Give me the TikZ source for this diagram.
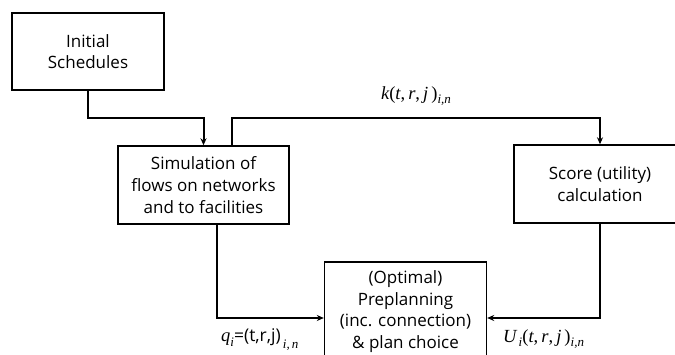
\documentclass[tikz,border=0pt]{standalone}
\usepackage{fontspec}
\setmainfont{Open Sans}
\newfontfamily\mfont{Liberation Serif}
\usetikzlibrary{arrows.meta,calc}
% italic serif letters for the flow formulas
\newcommand\mv[1]{{\mfont\itshape #1}}
\newcommand\msub[1]{\raisebox{-0.45ex}{\mfont\itshape\fontsize{13}{13}\selectfont #1}}
\newcommand\mtuple{{\mfont(\mv{t},\,\mv{r},\,\mv{j}\,)}}
\begin{document}
\begin{tikzpicture}[x=1pt,y=-1pt,
  box/.style={draw,line width=1.4pt,align=center,inner sep=0pt,
    font=\fontsize{17}{21.7}\selectfont},
  link/.style={line width=2pt,-{Stealth[length=7pt,width=6pt]}},
  lbl/.style={inner sep=0pt,font=\fontsize{18.5}{20}\selectfont}]
\useasboundingbox (0,0) rectangle (675,355);

% process boxes
\node[box,minimum width=152pt,minimum height=77pt] (init) at (88,51.5)
  {Initial\\Schedules};
\node[box,minimum width=171pt,minimum height=78pt] (sim) at (203.5,185)
  {Simulation of\\flows on networks\\and to facilities};
\node[box,minimum width=172pt,minimum height=78pt] (score) at (600,184)
  {Score (utility)\\calculation};
\node[box,minimum width=162pt,minimum height=120pt] (prep) at (405.5,322)
  {};
\node[box,draw=none] (preptext) at (405.5,311.5)
  {(Optimal)\\Preplanning\\(inc. connection)\\\& plan choice};

% bend points of the connectors
\coordinate (initturn) at (88,118);
\coordinate (loopup) at (232,118);
\coordinate (simout) at (217,224);
\coordinate (qin) at (prep.west |- 0,318);
\coordinate (uin) at (prep.east |- 0,318);

% connectors
\draw[link] (init.south) |- (initturn) -| (sim.north);
\draw[link] (loopup |- sim.north) -- (loopup) -| (score.north);
\draw[link] (simout) |- (qin);
\draw[link] (score.south) |- (uin);

% flow labels
\node[lbl] (klbl) at (416,96) {\mv{k}\mtuple\msub{i,n}};
\node[lbl,anchor=west] (qlbl) at (221,340)
  {\mv{q}\msub{i}{\fontsize{17.5}{20}\selectfont=(t,r,j)}\raisebox{-0.25ex}{\msub{\,i,\,n}}};
\node[lbl,anchor=west] (ulbl) at (503,339) {\mv{U}\msub{\,i}\mtuple\msub{i,n}};
\end{tikzpicture}
\end{document}
